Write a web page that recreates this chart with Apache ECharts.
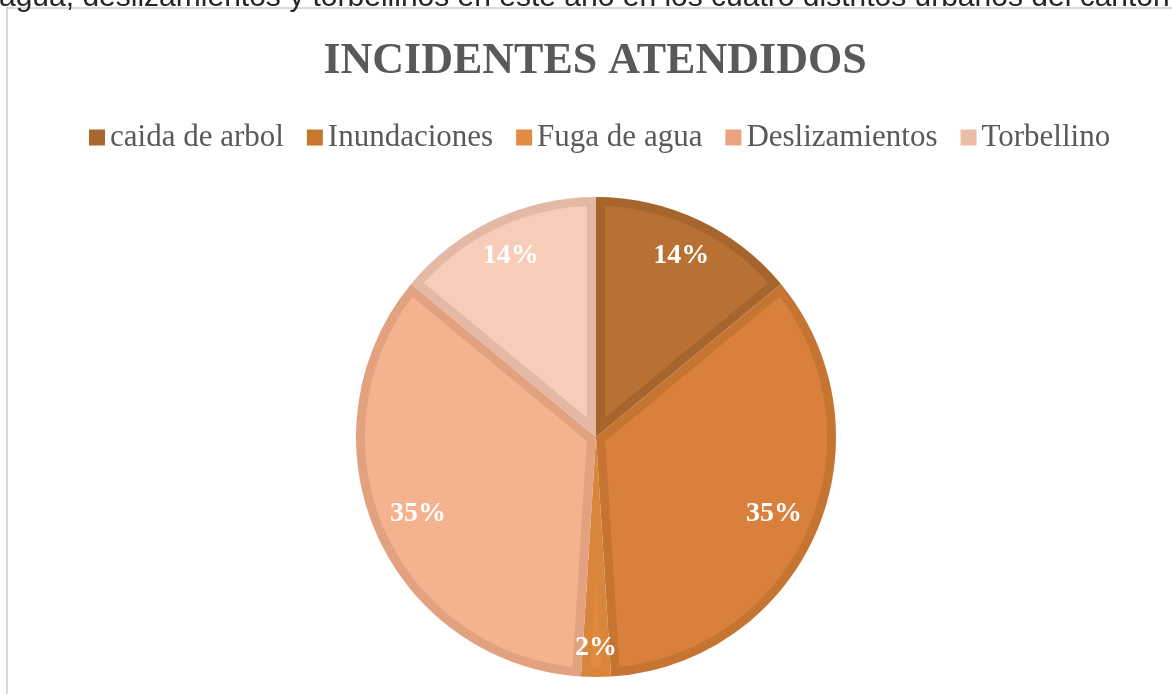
<!DOCTYPE html>
<html>
<head>
<meta charset="utf-8">
<script src="https://cdn.jsdelivr.net/npm/echarts@6/dist/echarts.min.js"></script>
<style>
  html, body { margin: 0; padding: 0; background: #ffffff; }
  #chart { width: 1172px; height: 694px; }
</style>
</head>
<body>
<div id="chart"></div>
<script>
// Incident categories and their share of attended incidents (%)
const categories = ['caida de arbol', 'Inundaciones', 'Fuga de agua', 'Deslizamientos', 'Torbellino'];
const shares = [14, 35, 2, 35, 14];
const fillColors = ['#B87033', '#D9813C', '#E08A40', '#F5B28F', '#F7CDBA'];
const edgeColors = ['#A6652D', '#C67432', '#DA853C', '#E2A17F', '#E3B9A5'];
const legendColors = ['#A9662E', '#C8772F', '#E38A40', '#E9A47F', '#EBBDA7'];
const chartTitle = 'INCIDENTES ATENDIDOS';
const pageText = 'agua, deslizamientos y torbellinos en este año en los cuatro distritos urbanos del cantón';

const CX = 596, CY = 437, R = 240, INSET = 9;
const LABEL_FONT = 'bold 28px "Liberation Serif"';
const total = shares.reduce((a, b) => a + b, 0);

// angles measured clockwise from 12 o'clock, in radians
function sliceAngles(i) {
  let s = 0;
  for (let k = 0; k < i; k++) s += shares[k];
  return [s / total * 2 * Math.PI, (s + shares[i]) / total * 2 * Math.PI];
}
function pt(r, a) { return [CX + r * Math.sin(a), CY - r * Math.cos(a)]; }

const measureCtx = document.createElement('canvas').getContext('2d');
measureCtx.font = LABEL_FONT;

// percentage label sits near the rim, fully inside the slice
function labelPos(mid, text) {
  const hw = measureCtx.measureText(text).width / 2, hh = 13, pad = 15;
  for (let t = R; t > 0; t -= 1) {
    const [x, y] = pt(t, mid);
    const far = Math.max(
      Math.hypot(x - hw - CX, y - hh - CY), Math.hypot(x + hw - CX, y - hh - CY),
      Math.hypot(x - hw - CX, y + hh - CY), Math.hypot(x + hw - CX, y + hh - CY));
    if (far <= R - pad) return [x, y];
  }
  return [CX, CY];
}

// lighter face of each slice, inset from its darker rim
function renderFace(params, api) {
  const i = params.dataIndex;
  const [a0, a1] = sliceAngles(i);
  const span = a1 - a0, mid = (a0 + a1) / 2;
  const ro = R - INSET;
  const delta = Math.asin(INSET / ro);
  const pts = [pt(INSET / Math.sin(span / 2), mid)];
  const inner = span - 2 * delta;
  const steps = Math.max(4, Math.ceil(inner / 0.01));
  for (let k = 0; k <= steps; k++) pts.push(pt(ro, a0 + delta + inner * k / steps));
  const text = Math.round(api.value(0) / total * 100) + '%';
  const [lx, ly] = labelPos(mid, text);
  return {
    type: 'group',
    children: [
      { type: 'polygon', shape: { points: pts }, style: { fill: fillColors[i] } },
      { type: 'text', z2: 10, style: { text: text, x: lx, y: ly, align: 'center', verticalAlign: 'middle', fill: '#ffffff', font: LABEL_FONT } }
    ]
  };
}

const chart = echarts.init(document.getElementById('chart'), null, { renderer: 'canvas' });
chart.setOption({
  animation: false,
  backgroundColor: '#ffffff',
  title: {
    text: chartTitle,
    left: 590,
    textAlign: 'center',
    top: 35,
    textStyle: { fontFamily: 'Liberation Serif', fontWeight: 'bold', fontSize: 44, color: '#595959' }
  },
  legend: {
    top: 117,
    left: 84,
    icon: 'rect',
    itemWidth: 16,
    itemHeight: 16,
    itemGap: 23,
    selectedMode: false,
    textStyle: { fontFamily: 'Liberation Serif', fontSize: 31, color: '#595959' },
    data: categories.map((n, i) => ({ name: n, itemStyle: { color: legendColors[i] } }))
  },
  graphic: [
    { type: 'rect', silent: true, z: -10, shape: { x: 7, y: 8, width: 1200, height: 720 },
      style: { fill: null, stroke: '#d9d9d9', lineWidth: 2 } },
    { type: 'text', silent: true, x: -1, y: 13,
      style: { text: pageText, font: '30px "Liberation Sans"', fill: '#262626', verticalAlign: 'bottom' } }
  ],
  series: [
    {
      type: 'pie',
      center: [CX, CY],
      radius: R,
      startAngle: 90,
      clockwise: true,
      silent: true,
      label: { show: false },
      labelLine: { show: false },
      emphasis: { disabled: true },
      data: categories.map((n, i) => ({ name: n, value: shares[i], itemStyle: { color: edgeColors[i] } }))
    },
    {
      type: 'custom',
      coordinateSystem: 'none',
      silent: true,
      z: 3,
      renderItem: renderFace,
      data: shares
    }
  ]
});
</script>
</body>
</html>
